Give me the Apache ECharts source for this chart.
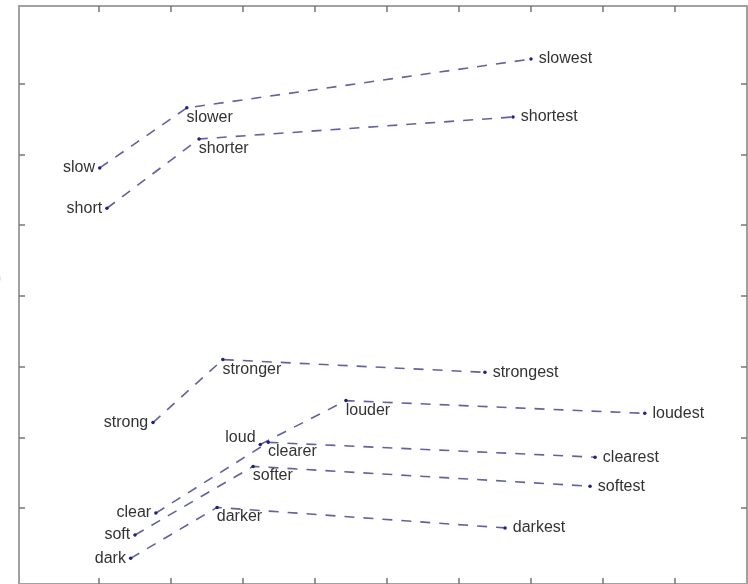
<!DOCTYPE html>
<html>
<head>
<meta charset="utf-8">
<script src="https://cdn.jsdelivr.net/npm/echarts@6/dist/echarts.min.js"></script>
<style>
  html, body { margin: 0; padding: 0; background: #fff; }
  #chart { width: 748px; height: 584px; }
</style>
</head>
<body>
<div id="chart"></div>
<script>
// words: base / comparative / superlative
const baseWords = ['slow', 'short', 'strong', 'loud', 'clear', 'soft', 'dark']
const compWords = ['slower', 'shorter', 'stronger', 'louder', 'clearer', 'softer', 'darker']
const supWords = ['slowest', 'shortest', 'strongest', 'loudest', 'clearest', 'softest', 'darkest']

// projected coordinates
const baseX = [1.01, 1.11, 1.75, 3.24, 1.79, 1.50, 1.44]
const baseY = [5.81, 5.24, 2.21, 1.90, 0.93, 0.62, 0.29]
const compX = [2.22, 2.39, 2.72, 4.43, 3.35, 3.14, 2.64]
const compY = [6.66, 6.22, 3.10, 2.52, 1.93, 1.59, 1.01]
const supX = [7.00, 6.75, 6.36, 8.58, 7.89, 7.82, 6.64]
const supY = [7.35, 6.53, 2.92, 2.34, 1.72, 1.31, 0.72]

// axis ticks (labels cut off in the figure)
const xTicks = [1, 2, 3, 4, 5, 6, 7, 8, 9]
const yTicks = [1, 2, 3, 4, 5, 6, 7]

const chart = echarts.init(document.getElementById('chart'))

const textStyle = {
  color: '#333',
  fontSize: 16,
  fontFamily: 'Liberation Sans, Arial, sans-serif'
}

// label placement per form
const baseLabel = { show: true, position: 'left', distance: 3, ...textStyle }
const compLabel = { show: true, position: 'right', distance: 0, offset: [-2, 9.5], ...textStyle }
const supLabel = { show: true, position: 'right', distance: 6, ...textStyle }
// 'loud' sits slightly above its point
const labelTweak = { loud: { offset: [0, -7] } }

const seriesItems = baseWords.map((w, i) => {
  return {
    type: 'line',
    name: w,
    symbol: 'circle',
    symbolSize: 3.5,
    itemStyle: { color: '#1f1f85' },
    lineStyle: { color: '#62629f', width: 1.6, type: [10, 9] },
    emphasis: { disabled: true },
    animation: false,
    data: [
      { value: [baseX[i], baseY[i]], name: w, label: { ...baseLabel, ...(labelTweak[w] || {}), formatter: w } },
      { value: [compX[i], compY[i]], name: compWords[i], label: { ...compLabel, formatter: compWords[i] } },
      { value: [supX[i], supY[i]], name: supWords[i], label: { ...supLabel, formatter: supWords[i] } }
    ]
  }
})

const frameLine = { show: true, onZero: false, lineStyle: { color: '#a0a0a0', width: 2 } }
const tickStyle = { lineStyle: { color: '#777', width: 1.5 } }

function xAx(pos) {
  return {
    type: 'value', position: pos, min: -0.111, max: 10,
    axisLine: frameLine,
    axisTick: { show: true, inside: true, length: 6, customValues: xTicks, ...tickStyle },
    axisLabel: { show: false },
    splitLine: { show: false }
  }
}
function yAx(pos) {
  return {
    type: 'value', position: pos, min: -0.073, max: 8.1,
    axisLine: frameLine,
    axisTick: { show: true, inside: true, length: 6, customValues: yTicks, ...tickStyle },
    axisLabel: { show: false },
    splitLine: { show: false }
  }
}

const options = {
  backgroundColor: '#fff',
  grid: { left: 19, right: 1, top: 6, bottom: -1 },
  xAxis: [xAx('bottom'), xAx('top')],
  yAxis: [yAx('left'), yAx('right')],
  graphic: [{
    type: 'text', left: -4, top: 271,
    style: { text: ')', fill: '#aaa', fontSize: 16, fontFamily: 'Liberation Sans, Arial, sans-serif' }
  }],
  series: seriesItems
}
chart.setOption(options)
</script>
</body>
</html>
